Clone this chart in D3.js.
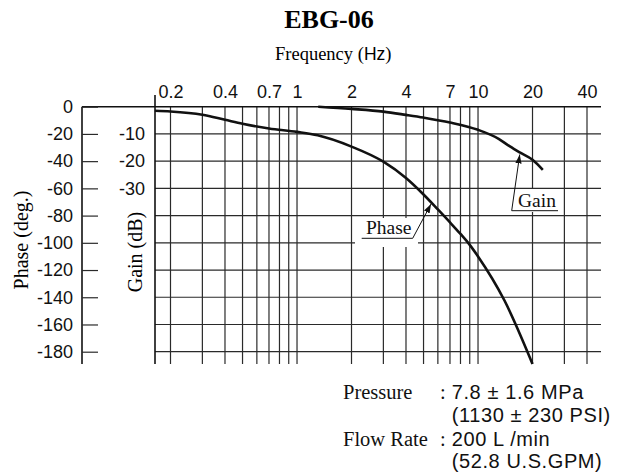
<!DOCTYPE html>
<html>
<head>
<meta charset="utf-8">
<script src="https://cdn.jsdelivr.net/npm/d3@7/dist/d3.min.js"></script>
<style>
  html, body { margin: 0; padding: 0; background: #fff; }
  svg { display: block; }
</style>
</head>
<body>
<svg id="chart" width="628" height="472"></svg>
<script>
// ---------- data ----------
const freqLabels = [0.2, 0.4, 0.7, 1, 2, 4, 7, 10, 20, 40];
const freqGrid = [0.2, 0.3, 0.4, 0.5, 0.6, 0.7, 0.8, 0.9, 1, 2, 3, 4, 5, 6, 7, 8, 9, 10, 20, 30, 40];
const phaseTicks = [0, -20, -40, -60, -80, -100, -120, -140, -160, -180];
const gainTicks = [-10, -20, -30];

const phaseFreq = [0.164, 0.2, 0.3, 0.4, 0.5, 0.7, 1, 1.3, 2, 3, 4, 5, 6, 7, 8, 9, 10, 14, 20];
const phaseDeg  = [-3, -3.5, -5.9, -9.6, -12.5, -16, -18.5, -21, -29.3, -40.4, -52.4, -64.5, -75.5, -85, -93.5, -101.5, -110, -142.4, -189];

const gainFreq = [1.31, 2, 3, 4, 5, 7, 10, 13, 15, 17, 20, 22.8];
const gainDb   = [0, -0.8, -1.8, -3, -4, -5.8, -8.5, -11.8, -14.6, -16.8, -19.5, -23.2];

const noteLines = [
  { label: "Pressure", colon: true, value: "7.8 \u00b1 1.6 MPa" },
  { label: "", colon: false, value: "(1130 \u00b1 230 PSI)" },
  { label: "Flow Rate", colon: true, value: "200 L /min" },
  { label: "", colon: false, value: "(52.8 U.S.GPM)" }
];

// ---------- layout ----------
const SERIF = "'Liberation Serif', 'Times New Roman', serif";
const SANS = "'Liberation Sans', Arial, Helvetica, sans-serif";
const axisX = 82, plotL = 155, plotR = 601, plotT = 106.7, plotB = 351.7, gridB = 364;

const x = d3.scaleLog().domain([0.2, 40]).range([170.5, 587]);
const yPhase = d3.scaleLinear().domain([0, -180]).range([plotT, plotB]);
const yGain = d3.scaleLinear().domain([0, -90]).range([plotT, plotB]);
const plain = d => String(d);   // hyphen-minus, as in the original

const svg = d3.select("#chart");

// title
svg.append("text").attr("x", 329).attr("y", 28).attr("text-anchor", "middle")
  .attr("font-family", SERIF).attr("font-weight", "bold").attr("font-size", 26)
  .text("EBG-06");

// axis title
const ft = svg.append("text").attr("x", 275).attr("y", 60)
  .attr("font-family", SERIF).attr("font-size", 18.5);
ft.append("tspan").text("Frequency (");
ft.append("tspan").attr("font-family", SANS).attr("font-size", 17.5).text("Hz");
ft.append("tspan").text(")");

svg.append("text").attr("transform", "translate(28,240) rotate(-90)")
  .attr("text-anchor", "middle").attr("font-family", SERIF).attr("font-size", 20)
  .text("Phase (deg.)");
svg.append("text").attr("transform", "translate(142,252) rotate(-90)")
  .attr("text-anchor", "middle").attr("font-family", SERIF).attr("font-size", 20)
  .text("Gain (dB)");

// grid
const grid = svg.append("g").attr("stroke", "#2a2a2a").attr("stroke-width", 1.2);
grid.selectAll("line.v").data(freqGrid).join("line")
  .attr("x1", d => x(d)).attr("x2", d => x(d))
  .attr("y1", plotT).attr("y2", gridB);
grid.selectAll("line.h").data(phaseTicks.filter(d => d !== 0)).join("line")
  .attr("x1", plotL).attr("x2", plotR)
  .attr("y1", d => yPhase(d)).attr("y2", d => yPhase(d));

// frame lines
const frame = svg.append("g").attr("stroke", "#111").attr("stroke-width", 1.6);
frame.append("line").attr("x1", axisX).attr("x2", plotR).attr("y1", plotT).attr("y2", plotT);
frame.append("line").attr("x1", axisX).attr("x2", axisX).attr("y1", plotT).attr("y2", gridB);
frame.append("line").attr("x1", plotL).attr("x2", plotL).attr("y1", 95).attr("y2", gridB);

// frequency axis (top)
const fAxis = svg.append("g").attr("transform", `translate(0,${plotT})`)
  .call(d3.axisTop(x).tickValues(freqLabels).tickFormat(plain).tickSize(0).tickPadding(8.4));
fAxis.select(".domain").remove();
fAxis.selectAll("text").attr("font-family", SANS).attr("font-size", 18).attr("fill", "#111");

// phase axis
const pAxis = svg.append("g").attr("transform", `translate(${axisX},0)`)
  .call(d3.axisLeft(yPhase).tickValues(phaseTicks).tickFormat(plain).tickSize(-16).tickPadding(9));
pAxis.select(".domain").remove();
pAxis.selectAll("line").attr("stroke", "#2a2a2a").attr("stroke-width", 1.2);
pAxis.selectAll("text").attr("font-family", SANS).attr("font-size", 18).attr("fill", "#111");

// gain axis
const gAxis = svg.append("g").attr("transform", `translate(${plotL},0)`)
  .call(d3.axisLeft(yGain).tickValues(gainTicks).tickFormat(plain).tickSize(0).tickPadding(10));
gAxis.select(".domain").remove();
gAxis.selectAll("text").attr("font-family", SANS).attr("font-size", 18).attr("fill", "#111");

// curves
const phaseData = phaseFreq.map((f, i) => ({ f, v: phaseDeg[i] }));
const gainData = gainFreq.map((f, i) => ({ f, v: gainDb[i] }));
svg.append("path").datum(phaseData)
  .attr("fill", "none").attr("stroke", "#111").attr("stroke-width", 2.6)
  .attr("d", d3.line().x(d => x(d.f)).y(d => yPhase(d.v)).curve(d3.curveMonotoneX));
svg.append("path").datum(gainData)
  .attr("fill", "none").attr("stroke", "#111").attr("stroke-width", 2.6)
  .attr("d", d3.line().x(d => x(d.f)).y(d => yGain(d.v)).curve(d3.curveMonotoneX));

// annotations
svg.append("defs").append("marker").attr("id", "arr")
  .attr("viewBox", "0 0 10 10").attr("refX", 10).attr("refY", 5)
  .attr("markerWidth", 9).attr("markerHeight", 9).attr("markerUnits", "userSpaceOnUse")
  .attr("orient", "auto")
  .append("path").attr("d", "M0,1.5 L10,5 L0,8.5 Z").attr("fill", "#111");

function annotate(text, tipX, tipY, box, textX, baseY, ulX1, ulX2, ulY, leaderX) {
  const g = svg.append("g");
  g.append("rect").attr("x", box[0]).attr("y", box[1]).attr("width", box[2]).attr("height", box[3]).attr("fill", "#fff");
  g.append("text").attr("x", textX).attr("y", baseY).attr("font-family", SERIF).attr("font-size", 19.5).attr("fill", "#111").text(text);
  g.append("line").attr("x1", ulX1).attr("x2", ulX2).attr("y1", ulY).attr("y2", ulY).attr("stroke", "#111").attr("stroke-width", 1);
  g.append("line").attr("x1", leaderX).attr("y1", ulY).attr("x2", tipX).attr("y2", tipY)
    .attr("stroke", "#111").attr("stroke-width", 1).attr("marker-end", "url(#arr)");
}
annotate("Phase", x(5.5), yPhase(-71.5), [355, 218, 63, 29], 366, 234, 361.7, 412.7, 238.3, 412.7);
annotate("Gain", x(17), yGain(-16.8) + 2, [513, 189, 47, 23], 518, 206.7, 511.7, 558, 210.7, 511.7);

// notes
const notes = svg.append("g");
noteLines.forEach((n, i) => {
  const by = [399.3, 421.7, 446, 468.3][i];
  if (n.label) notes.append("text").attr("x", 343).attr("y", by).attr("font-family", SERIF).attr("font-size", 20.5).attr("fill", "#111").text(n.label);
  if (n.colon) notes.append("text").attr("x", 440).attr("y", by).attr("font-family", SERIF).attr("font-size", 20.5).attr("fill", "#111").text(":");
  notes.append("text").attr("x", 451.7).attr("y", by).attr("font-family", SANS).attr("font-size", 20)
    .attr("letter-spacing", 0.6).attr("fill", "#111").text(n.value);
});
</script>
</body>
</html>
